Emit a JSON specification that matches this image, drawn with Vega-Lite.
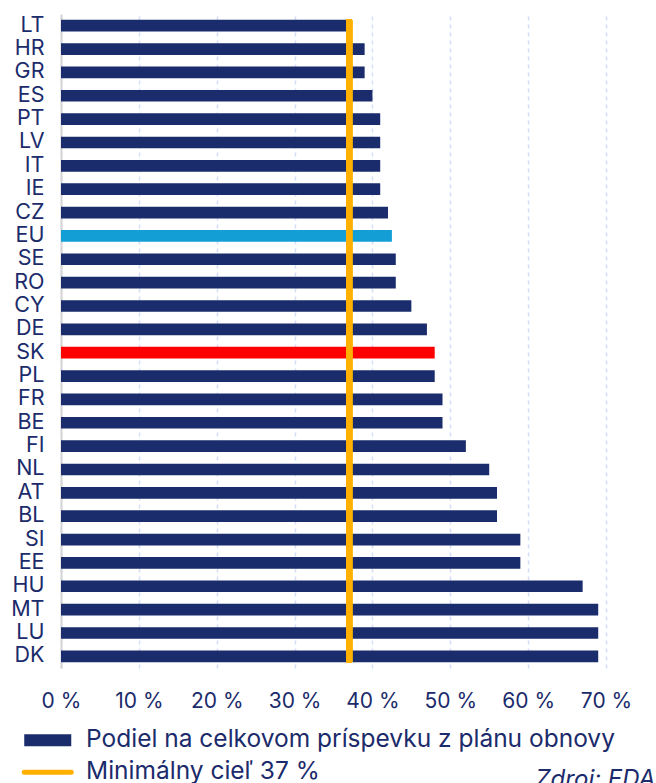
{
  "$schema": "https://vega.github.io/schema/vega-lite/v6.json",
  "autosize": "none",
  "width": 545,
  "height": 654,
  "padding": {"left": 61, "top": 14, "right": 50, "bottom": 115},
  "background": "white",
  "config": {
    "font": "Inter",
    "view": {"stroke": null},
    "axis": {"labelColor": "#1b2b6b", "labelFont": "Inter"}
  },
  "data": {
    "values": [
      {"krajina": "LT", "podiel": 37, "skupina": "Podiel na celkovom príspevku z plánu obnovy"},
      {"krajina": "HR", "podiel": 39, "skupina": "Podiel na celkovom príspevku z plánu obnovy"},
      {"krajina": "GR", "podiel": 39, "skupina": "Podiel na celkovom príspevku z plánu obnovy"},
      {"krajina": "ES", "podiel": 40, "skupina": "Podiel na celkovom príspevku z plánu obnovy"},
      {"krajina": "PT", "podiel": 41, "skupina": "Podiel na celkovom príspevku z plánu obnovy"},
      {"krajina": "LV", "podiel": 41, "skupina": "Podiel na celkovom príspevku z plánu obnovy"},
      {"krajina": "IT", "podiel": 41, "skupina": "Podiel na celkovom príspevku z plánu obnovy"},
      {"krajina": "IE", "podiel": 41, "skupina": "Podiel na celkovom príspevku z plánu obnovy"},
      {"krajina": "CZ", "podiel": 42, "skupina": "Podiel na celkovom príspevku z plánu obnovy"},
      {"krajina": "EU", "podiel": 42.5, "skupina": "EU"},
      {"krajina": "SE", "podiel": 43, "skupina": "Podiel na celkovom príspevku z plánu obnovy"},
      {"krajina": "RO", "podiel": 43, "skupina": "Podiel na celkovom príspevku z plánu obnovy"},
      {"krajina": "CY", "podiel": 45, "skupina": "Podiel na celkovom príspevku z plánu obnovy"},
      {"krajina": "DE", "podiel": 47, "skupina": "Podiel na celkovom príspevku z plánu obnovy"},
      {"krajina": "SK", "podiel": 48, "skupina": "SK"},
      {"krajina": "PL", "podiel": 48, "skupina": "Podiel na celkovom príspevku z plánu obnovy"},
      {"krajina": "FR", "podiel": 49, "skupina": "Podiel na celkovom príspevku z plánu obnovy"},
      {"krajina": "BE", "podiel": 49, "skupina": "Podiel na celkovom príspevku z plánu obnovy"},
      {"krajina": "FI", "podiel": 52, "skupina": "Podiel na celkovom príspevku z plánu obnovy"},
      {"krajina": "NL", "podiel": 55, "skupina": "Podiel na celkovom príspevku z plánu obnovy"},
      {"krajina": "AT", "podiel": 56, "skupina": "Podiel na celkovom príspevku z plánu obnovy"},
      {"krajina": "BL", "podiel": 56, "skupina": "Podiel na celkovom príspevku z plánu obnovy"},
      {"krajina": "SI", "podiel": 59, "skupina": "Podiel na celkovom príspevku z plánu obnovy"},
      {"krajina": "EE", "podiel": 59, "skupina": "Podiel na celkovom príspevku z plánu obnovy"},
      {"krajina": "HU", "podiel": 67, "skupina": "Podiel na celkovom príspevku z plánu obnovy"},
      {"krajina": "MT", "podiel": 69, "skupina": "Podiel na celkovom príspevku z plánu obnovy"},
      {"krajina": "LU", "podiel": 69, "skupina": "Podiel na celkovom príspevku z plánu obnovy"},
      {"krajina": "DK", "podiel": 69, "skupina": "Podiel na celkovom príspevku z plánu obnovy"}
    ]
  },
  "layer": [
    {
      "mark": {"type": "bar"},
      "encoding": {
        "y": {
          "field": "krajina",
          "type": "nominal",
          "sort": null,
          "scale": {"paddingInner": 0.5, "paddingOuter": 0.25},
          "axis": {
            "title": null,
            "domain": true,
            "domainColor": "#d4d4d4",
            "domainWidth": 2,
            "ticks": false,
            "labelFontSize": 21.5,
            "labelFontWeight": 400,
            "labelPadding": 17
          }
        },
        "x": {
          "field": "podiel",
          "type": "quantitative",
          "scale": {"domain": [0, 70], "nice": false},
          "axis": {
            "title": "Zdroj: EDA",
            "titleFont": "Inter",
            "titleFontSize": 24,
            "titleFontStyle": "italic",
            "titleFontWeight": "normal",
            "titleColor": "#1b2b6b",
            "titleAlign": "left",
            "titleBaseline": "alphabetic",
            "titleX": 474,
            "titleY": 118,
            "values": [0, 10, 20, 30, 40, 50, 60, 70],
            "labelExpr": "datum.value + ' %'",
            "domain": false,
            "ticks": false,
            "grid": true,
            "gridColor": "#d3ddf6",
            "gridDash": [4, 4],
            "gridWidth": 1.5,
            "labelFontSize": 21,
            "labelFontWeight": 400,
            "labelPadding": 22,
            "labelFlush": false
          }
        },
        "color": {
          "field": "skupina",
          "type": "nominal",
          "scale": {
            "domain": ["Podiel na celkovom príspevku z plánu obnovy", "Minimálny cieľ 37 %", "EU", "SK"],
            "range": ["#1a2c6c", "#ffb000", "#139fd6", "#ff0000"]
          },
          "legend": {
            "values": ["Podiel na celkovom príspevku z plánu obnovy", "Minimálny cieľ 37 %"],
            "title": null,
            "orient": "none",
            "legendX": -25.5,
            "legendY": 714,
            "labelFontSize": 24.5,
            "labelFontWeight": 400,
            "labelColor": "#1b2b6b",
            "labelFont": "Inter",
            "labelLimit": 700,
            "symbolSize": 900,
            "symbolStrokeWidth": 0,
            "labelOffset": 26,
            "rowPadding": 7,
            "encode": {
              "symbols": {
                "update": {
                  "shape": {"signal": "datum.value === 'Minimálny cieľ 37 %' ? 'M-1.567,0L1.567,0' : 'M-1.567,-0.4L1.567,-0.4L1.567,0.4L-1.567,0.4Z'"},
                  "stroke": {"signal": "datum.value === 'Minimálny cieľ 37 %' ? '#ffb000' : null"},
                  "strokeWidth": {"signal": "datum.value === 'Minimálny cieľ 37 %' ? 5 : 0"},
                  "strokeCap": {"value": "round"},
                  "opacity": {"value": 1},
                  "fillOpacity": {"value": 1}
                }
              }
            }
          }
        }
      }
    },
    {
      "mark": {"type": "rule", "strokeWidth": 6},
      "encoding": {
        "x": {"datum": 37},
        "y": {"datum": "LT", "type": "nominal", "bandPosition": 0},
        "y2": {"datum": "DK", "bandPosition": 1},
        "color": {"datum": "Minimálny cieľ 37 %"}
      }
    }
  ]
}
